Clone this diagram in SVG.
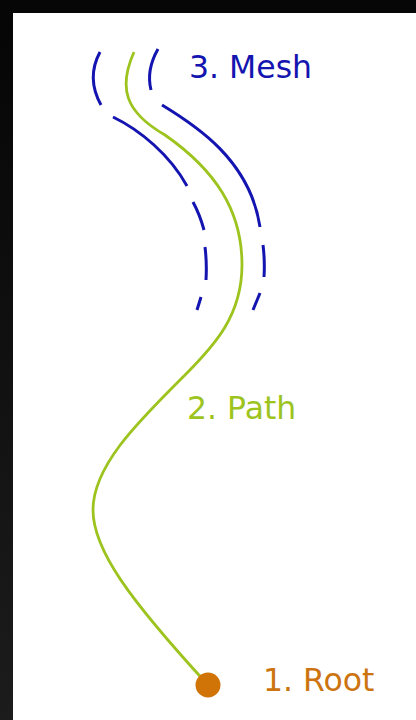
<svg xmlns="http://www.w3.org/2000/svg" width="416" height="720" viewBox="0 0 416 720">
  <defs>
    <linearGradient id="leftbar" x1="0" y1="0" x2="0" y2="1">
      <stop offset="0" stop-color="#050505"/>
      <stop offset="1" stop-color="#1c1c1c"/>
    </linearGradient>
    <style>
      .lbl { font-family: "DejaVu Sans", Verdana, sans-serif; font-size: 31.5px; }
      .mesh { fill: none; stroke: #1414b0; stroke-width: 3; stroke-linecap: butt; }
      .path { fill: none; stroke: #9dc41e; stroke-width: 2.8; }
    </style>
  </defs>
  <rect x="0" y="0" width="416" height="720" fill="#ffffff"/>
  <rect x="0" y="0" width="13" height="720" fill="url(#leftbar)"/>
  <rect x="0" y="0" width="416" height="13" fill="#060606"/>

  <g id="connectors">
    <g id="path-curve">
      <path class="path" d="M134,52 C118,88 125,112 165,135 C215,170 242,210 242,265 C242,315 215,345 185,375 C140,420 93,465 93,510 C93,550 130,600 208,685"/>
    </g>
    <g id="mesh-left">
      <path class="mesh" d="M100,52 Q86,78 101,105"/>
      <path class="mesh" d="M113,117 C140,130 170,155 187,186"/>
      <path class="mesh" d="M193,202 Q200,215 204,230"/>
      <path class="mesh" d="M205,247 Q207,263 206,280"/>
      <path class="mesh" d="M201,297 L197,310"/>
    </g>
    <g id="mesh-right">
      <path class="mesh" d="M158,49 Q146,70 151,90"/>
      <path class="mesh" d="M162,105 C195,125 250,160 260,227"/>
      <path class="mesh" d="M263,245 Q265,261 264,277"/>
      <path class="mesh" d="M260,293 L253,310"/>
    </g>
  </g>

  <g id="node-root">
    <circle cx="208" cy="685" r="12.5" fill="#d07408"/>
    <text class="lbl" x="263" y="691" fill="#cc7410">1. Root</text>
  </g>
  <g id="node-path">
    <text class="lbl" x="187" y="419" fill="#9dc41e">2. Path</text>
  </g>
  <g id="node-mesh">
    <text class="lbl" x="189" y="78" fill="#1414b0">3. Mesh</text>
  </g>
</svg>
